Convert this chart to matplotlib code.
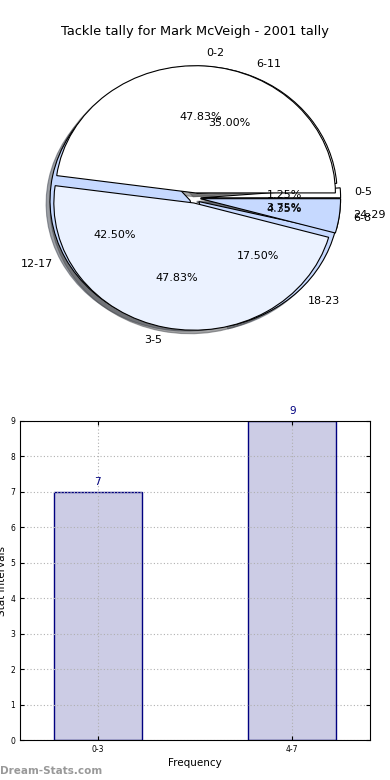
import matplotlib
matplotlib.use("Agg")
import matplotlib.pyplot as plt

# pie data - two tallies drawn on top of each other
labels_a = ["0-5", "6-11", "12-17", "18-23", "24-29"]
values_a = [1.25, 35.00, 42.50, 17.50, 3.75]
colors_a = ["#ffffff", "#ffffff", "#c6d9ff", "#c6d9ff", "#c6d9ff"]

labels_b = ["0-2", "3-5", "6-8"]
values_b = [47.83, 47.83, 4.35]
colors_b = ["#ffffff", "#ebf2ff", "#c6d9ff"]

# bar data
bar_labels = ["0-3", "4-7"]
bar_values = [7, 9]

fig = plt.figure(figsize=(3.9, 7.8), dpi=100)

# --- pie ---
ax1 = fig.add_axes([20/390, 1 - 357/780, 350/390, 318/780])
wp = dict(edgecolor="black", linewidth=0.8)
ax1.pie(values_a, labels=labels_a, colors=colors_a, explode=[0.04]*len(values_a),
        autopct="%1.2f%%", shadow=True, wedgeprops=wp,
        textprops=dict(fontsize=8))
ax1.pie(values_b, labels=labels_b, colors=colors_b, explode=[0.04]*len(values_b),
        autopct="%1.2f%%", shadow=True, wedgeprops=wp,
        textprops=dict(fontsize=8))
ax1.set_aspect("auto")
ax1.set_xlim(-1.25, 1.25)
ax1.set_ylim(-1.25, 1.25)
ax1.set_title("Tackle tally for Mark McVeigh - 2001 tally", fontsize=9.4, pad=3)

# --- bars ---
ax2 = fig.add_axes([20/390, 1 - 740/780, 350/390, 319/780])
x = list(range(len(bar_values)))
ax2.bar(x, bar_values, width=0.45, color="#ccccE5", edgecolor="#000080",
        linewidth=1.0, zorder=1)
for xi, v in zip(x, bar_values):
    ax2.text(xi, v + 0.15, str(v), ha="center", va="bottom", fontsize=7.5,
             color="#000080")
ax2.set_xlim(-0.4, 1.4)
ax2.set_ylim(0, 9)
ax2.set_xticks(x)
ax2.set_xticklabels(bar_labels)
ax2.set_yticks(range(0, 10))
ax2.tick_params(labelsize=5.5, direction="in", top=True, right=True, length=3)
ax2.set_axisbelow(False)
ax2.grid(True, linestyle=(0, (1, 2)), color="#b0b0b0", linewidth=0.8)
for sp in ax2.spines.values():
    sp.set_zorder(3)
ax2.set_xlabel("Frequency", fontsize=7.5, labelpad=3)
ax2.set_ylabel("Stat intervals", fontsize=7.5, labelpad=2)

fig.text(0.0, 4/780, "Dream-Stats.com", fontsize=7.5, color="#999999",
         fontweight="bold", ha="left", va="bottom")

fig.savefig("out.png", dpi=100)
